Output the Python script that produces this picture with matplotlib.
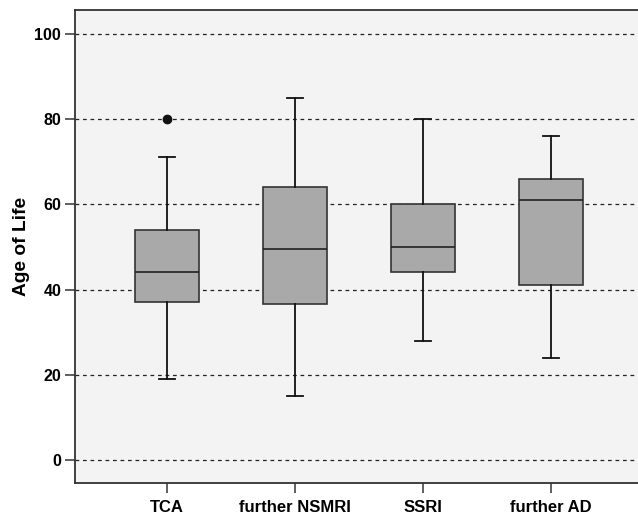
import matplotlib
matplotlib.use("Agg")
import matplotlib.pyplot as plt

categories = ["TCA", "further NSMRI", "SSRI", "further AD"]
whislo = [19, 15, 28, 24]
q1 = [37, 36.5, 44, 41]
med = [44, 49.5, 50, 61]
q3 = [54, 64, 60, 66]
whishi = [71, 85, 80, 76]
outliers = [[80], [], [], []]
yticks = [0, 20, 40, 60, 80, 100]

plt.rcParams['font.family'] = ['Liberation Sans', 'DejaVu Sans']

fig = plt.figure(figsize=(6.38, 5.17), dpi=100)
ax = fig.add_axes([0.1176, 0.0658, 0.8824, 0.9149])
ax.set_facecolor('#f3f3f3')

stats = []
for i, c in enumerate(categories):
    stats.append(dict(label=c, whislo=whislo[i], q1=q1[i], med=med[i],
                      q3=q3[i], whishi=whishi[i], fliers=outliers[i]))

for y in yticks:
    ax.axhline(y, color='#222222', linestyle=(0, (3, 3)), linewidth=0.9, zorder=1)

ax.bxp(stats, positions=[1, 2, 3, 4], widths=0.5, capwidths=0.12,
       patch_artist=True, showfliers=True,
       boxprops=dict(facecolor='#a9a9aa', edgecolor='#333333', linewidth=1.2),
       medianprops=dict(color='#222222', linewidth=1.2),
       whiskerprops=dict(color='#111111', linewidth=1.3),
       capprops=dict(color='#111111', linewidth=1.3),
       flierprops=dict(marker='o', markerfacecolor='#111111', markeredgecolor='#111111', markersize=6),
       zorder=2)

ax.set_xlim(0.28, 4.68)
ax.set_ylim(-5.4, 105.6)
ax.set_yticks(yticks)
ax.set_yticklabels([str(v) for v in yticks], fontsize=11.5, fontweight='bold')
ax.set_xticks([1, 2, 3, 4])
ax.set_xticklabels(categories, fontsize=12, fontweight='bold')
ax.set_ylabel("Age of Life", fontsize=13.8, fontweight='bold', labelpad=3)
ax.tick_params(axis='y', direction='out', length=7, width=1.2, color='#444444', pad=3)
ax.tick_params(axis='x', direction='out', length=7, width=1.2, color='#444444', pad=5)
for s in ax.spines.values():
    s.set_color('#333333')
    s.set_linewidth(1.3)
ax.spines['right'].set_visible(False)

fig.savefig("out.png", dpi=100)
